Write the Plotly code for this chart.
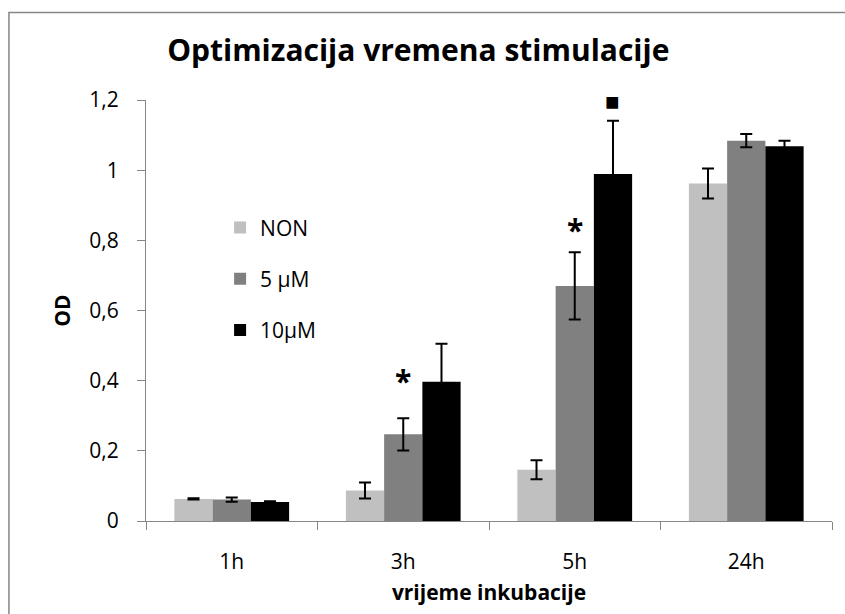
import plotly.graph_objects as go

# incubation times (categories) and treatment groups
times = ["1h", "3h", "5h", "24h"]
groups = ["NON", "5 μM", "10μM"]
group_colors = ["#C0C0C0", "#808080", "#000000"]

# mean optical density per group
od_non = [0.063, 0.087, 0.146, 0.962]
od_5um = [0.061, 0.247, 0.670, 1.084]
od_10um = [0.054, 0.397, 0.989, 1.068]

# standard deviations
sd_non = [0.002, 0.023, 0.027, 0.043]
sd_5um = [0.006, 0.046, 0.096, 0.019]
sd_10um = [0.002, 0.108, 0.152, 0.016]

# significance marks: time, group index, symbol, y position
mark_time = ["3h", "5h", "5h"]
mark_group = [1, 1, 2]
mark_symbol = ["*", "*", "■"]
mark_y = [0.400, 0.832, 1.200]

means = [od_non, od_5um, od_10um]
sds = [sd_non, sd_5um, sd_10um]

FONT = "Open Sans"
AXIS_GREY = "#868686"
BARGAP = 0.331

fig = go.Figure()
for i, name in enumerate(groups):
    fig.add_trace(go.Bar(
        name=name,
        x=times,
        y=means[i],
        marker=dict(color=group_colors[i], line=dict(width=0)),
        error_y=dict(type="data", array=sds[i], visible=True,
                     color="#000000", thickness=2, width=6),
        legendgroup=name,
    ))

# place significance symbols above the matching bar in each group
bar_w = (1 - BARGAP) / len(groups)
annotations = []
for t, g, s, y in zip(mark_time, mark_group, mark_symbol, mark_y):
    xc = times.index(t) + (g - (len(groups) - 1) / 2) * bar_w
    annotations.append(dict(
        x=xc, y=y, xref="x", yref="y", text="<b>%s</b>" % s, showarrow=False,
        font=dict(family=FONT, size=30 if s == "*" else 24, color="#000000"),
        xanchor="center", yanchor="middle",
    ))

fig.update_layout(
    width=845, height=614,
    margin=dict(l=146, r=13, t=100, b=93),
    paper_bgcolor="white", plot_bgcolor="white",
    separators=",.",
    barmode="group", bargap=BARGAP, bargroupgap=0,
    font=dict(family=FONT, size=21, color="#000000"),
    title=dict(text="<b>Optimizacija vremena stimulacije</b>",
               x=0.495, y=0.917, xanchor="center", yanchor="middle",
               font=dict(family=FONT, size=30, color="#000000")),
    legend=dict(x=0.108, y=0.745, xanchor="left", yanchor="top",
                bgcolor="rgba(0,0,0,0)", tracegroupgap=21,
                font=dict(family=FONT, size=21)),
    xaxis=dict(type="category", showline=True, linecolor=AXIS_GREY, linewidth=1.3,
               ticks="outside", tickson="boundaries", ticklen=8, tickcolor=AXIS_GREY,
               showgrid=False, zeroline=False, ticklabelstandoff=22,
               title=dict(text="<b>vrijeme inkubacije</b>", standoff=10,
                          font=dict(family=FONT, size=21))),
    yaxis=dict(range=[0, 1.2], dtick=0.2, showline=True, linecolor=AXIS_GREY,
               linewidth=1.3, ticks="outside", ticklen=8, tickcolor=AXIS_GREY,
               showgrid=False, zeroline=False, ticklabelstandoff=14,
               title=dict(text="<b>OD</b>", standoff=12,
                          font=dict(family=FONT, size=21))),
    annotations=annotations,
    shapes=[dict(type="rect", xref="paper", yref="paper",
                 x0=-0.1998, x1=1.06, y0=-0.3, y1=1.2077,
                 line=dict(color=AXIS_GREY, width=1.5), fillcolor="rgba(0,0,0,0)")],
)

fig.write_html("out.html")
